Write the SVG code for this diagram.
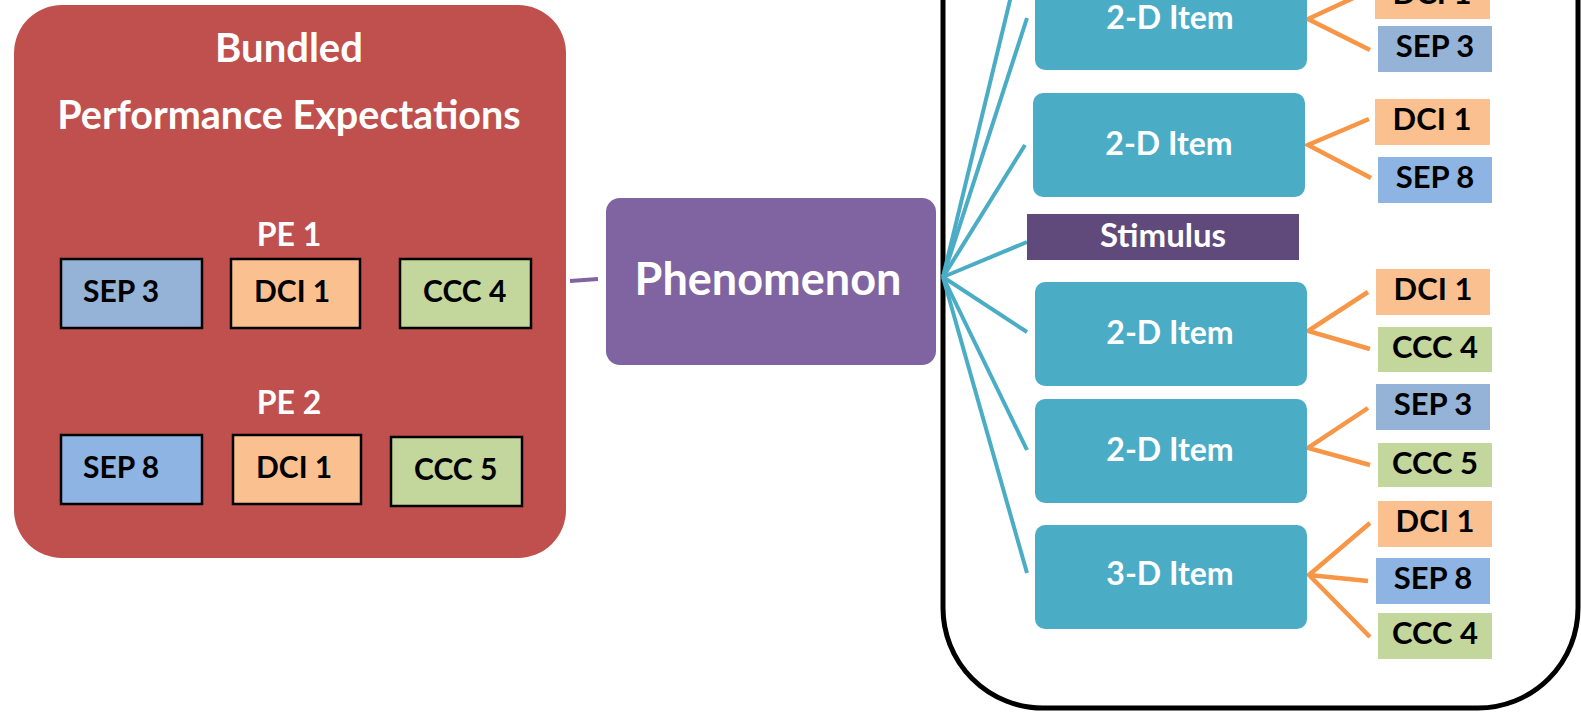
<svg xmlns="http://www.w3.org/2000/svg" width="1581" height="714" viewBox="0 0 1581 714">
<style>
  text { font-family: Lato, "Liberation Sans", "DejaVu Sans", sans-serif; font-weight: bold; }
  .wt { fill: #FFFFFF; text-anchor: middle; }
  .bt { fill: #000000; }
  .tt { fill: #000000; text-anchor: middle; font-size: 31px; }
  .pe { stroke: #000000; stroke-width: 2.5; }
  .sep3 { fill: #95B3D7; }
  .sep8 { fill: #8DB4E2; }
  .dci { fill: #FAC090; }
  .ccc { fill: #C3D69B; }
  .item { fill: #4BACC6; }
  .blue { stroke: #4BACC6; stroke-width: 4; fill: none; }
  .org { stroke: #F79646; stroke-width: 4.5; fill: none; }
</style>
<rect x="0" y="0" width="1581" height="714" fill="#FFFFFF"/>

<g id="bundled-pe">
  <rect x="14" y="5" width="552" height="553" rx="48" fill="#C0504D"/>
  <text class="wt" x="289" y="62" font-size="40">Bundled</text>
  <text class="wt" x="289" y="129" font-size="39.5">Performance Expectations</text>
  <text class="wt" x="289" y="246" font-size="32">PE 1</text>
  <text class="wt" x="289" y="414" font-size="32">PE 2</text>
  <g id="pe1-sep3"><rect class="pe sep3" x="61" y="259" width="141" height="69"/><text class="bt" x="83" y="302" font-size="30">SEP 3</text></g>
  <g id="pe1-dci1"><rect class="pe dci" x="231" y="259" width="129" height="69"/><text class="bt" x="254" y="302" font-size="30">DCI 1</text></g>
  <g id="pe1-ccc4"><rect class="pe ccc" x="400" y="259" width="131" height="69"/><text class="bt" x="423" y="302" font-size="30">CCC 4</text></g>
  <g id="pe2-sep8"><rect class="pe sep8" x="61" y="435" width="141" height="69"/><text class="bt" x="83" y="478" font-size="30">SEP 8</text></g>
  <g id="pe2-dci1"><rect class="pe dci" x="233" y="435" width="128" height="69"/><text class="bt" x="256" y="478" font-size="30">DCI 1</text></g>
  <g id="pe2-ccc5"><rect class="pe ccc" x="391" y="437" width="131" height="69"/><text class="bt" x="414" y="480" font-size="30">CCC 5</text></g>
</g>

<g id="assessment-panel">
  <rect x="943" y="-200" width="635" height="908" rx="100" fill="none" stroke="#000000" stroke-width="5"/>
</g>

<g id="connectors">
  <line x1="570" y1="281" x2="598" y2="279" stroke="#8064A2" stroke-width="4"/>
  <line class="blue" x1="943" y1="277" x2="1012" y2="-8"/>
  <line class="blue" x1="943" y1="277" x2="1027" y2="18"/>
  <line class="blue" x1="943" y1="277" x2="1025" y2="145"/>
  <line class="blue" x1="943" y1="277" x2="1027" y2="242"/>
  <line class="blue" x1="943" y1="277" x2="1027" y2="332"/>
  <line class="blue" x1="943" y1="277" x2="1027" y2="450"/>
  <line class="blue" x1="943" y1="277" x2="1027" y2="573"/>
  <polyline class="org" points="1375,-12 1308,19 1370,50"/>
  <polyline class="org" points="1369,119 1308,145 1371,178"/>
  <polyline class="org" points="1368,292 1308,331 1370,349"/>
  <polyline class="org" points="1368,408 1308,448 1370,465"/>
  <polyline class="org" points="1370,523 1309,575 1370,637"/>
  <line class="org" x1="1309" y1="575" x2="1368" y2="581"/>
</g>

<g id="phenomenon">
  <rect x="606" y="198" width="330" height="167" rx="14" fill="#8064A2"/>
  <text class="wt" x="768" y="295" font-size="45">Phenomenon</text>
</g>

<g id="item-a">
  <rect class="item" x="1035" y="-40" width="272" height="110" rx="10"/>
  <text class="wt" x="1170" y="29" font-size="32">2-D Item</text>
</g>
<g id="item-b">
  <rect class="item" x="1033" y="93" width="272" height="104" rx="10"/>
  <text class="wt" x="1169" y="155" font-size="32">2-D Item</text>
</g>
<g id="stimulus">
  <rect x="1027" y="214" width="272" height="46" fill="#604A7B"/>
  <text class="wt" x="1163" y="247" font-size="33">Stimulus</text>
</g>
<g id="item-c">
  <rect class="item" x="1035" y="282" width="272" height="104" rx="10"/>
  <text class="wt" x="1170" y="344" font-size="32">2-D Item</text>
</g>
<g id="item-d">
  <rect class="item" x="1035" y="399" width="272" height="104" rx="10"/>
  <text class="wt" x="1170" y="461" font-size="32">2-D Item</text>
</g>
<g id="item-e">
  <rect class="item" x="1035" y="525" width="272" height="104" rx="10"/>
  <text class="wt" x="1170" y="585" font-size="32">3-D Item</text>
</g>

<g id="tag-a-dci1"><rect class="dci" x="1375" y="-27" width="115" height="46"/><text class="tt" x="1432" y="4">DCI 1</text></g>
<g id="tag-a-sep3"><rect class="sep3" x="1378" y="26" width="114" height="46"/><text class="tt" x="1435" y="57">SEP 3</text></g>
<g id="tag-b-dci1"><rect class="dci" x="1375" y="99" width="115" height="46"/><text class="tt" x="1432" y="130">DCI 1</text></g>
<g id="tag-b-sep8"><rect class="sep8" x="1378" y="157" width="114" height="46"/><text class="tt" x="1435" y="188">SEP 8</text></g>
<g id="tag-c-dci1"><rect class="dci" x="1376" y="269" width="114" height="46"/><text class="tt" x="1433" y="300">DCI 1</text></g>
<g id="tag-c-ccc4"><rect class="ccc" x="1378" y="327" width="114" height="45"/><text class="tt" x="1435" y="358">CCC 4</text></g>
<g id="tag-d-sep3"><rect class="sep3" x="1376" y="384" width="114" height="46"/><text class="tt" x="1433" y="415">SEP 3</text></g>
<g id="tag-d-ccc5"><rect class="ccc" x="1378" y="443" width="114" height="44"/><text class="tt" x="1435" y="474">CCC 5</text></g>
<g id="tag-e-dci1"><rect class="dci" x="1378" y="501" width="114" height="46"/><text class="tt" x="1435" y="532">DCI 1</text></g>
<g id="tag-e-sep8"><rect class="sep8" x="1376" y="558" width="114" height="46"/><text class="tt" x="1433" y="589">SEP 8</text></g>
<g id="tag-e-ccc4"><rect class="ccc" x="1378" y="613" width="114" height="46"/><text class="tt" x="1435" y="644">CCC 4</text></g>
</svg>
